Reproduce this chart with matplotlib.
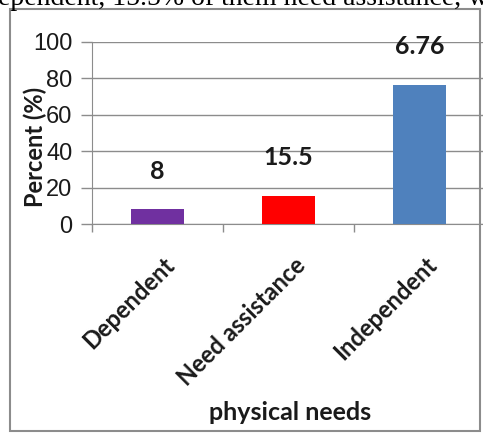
import matplotlib.pyplot as plt
from matplotlib.patches import Rectangle

categories = ['Dependent', 'Need assistance', 'Independent']
percent = [8, 15.5, 76.5]
value_labels = ['8', '15.5', '6.76']
bar_colors = ['#7030A0', '#FF0000', '#4F81BD']
yticks = [0, 20, 40, 60, 80, 100]

fig = plt.figure(figsize=(4.83, 4.33), dpi=100)

# caption line running above the chart box
fig.text(-0.005, 1 - 5 / 433, 'ependent, 15.5% of them need assistance, w',
         family='Liberation Serif', fontsize=20, ha='left', va='baseline')

# chart box
fig.patches.append(Rectangle((10 / 483, 1 - 431 / 433), 470 / 483, 422 / 433,
                             transform=fig.transFigure, fill=False,
                             edgecolor='#8c8c8c', lw=1.5))

ax = fig.add_axes([92 / 483, 1 - 224 / 433, 393 / 483, 182 / 433])
x = range(len(categories))
ax.bar(x, percent, width=0.4, color=bar_colors, zorder=3)

for i, (v, lab) in enumerate(zip(percent, value_labels)):
    ax.text(i, v + 21, lab, ha='center', va='center', family='Lato',
            fontweight='bold', fontsize=18, color='#1a1a1a', zorder=4)

ax.set_xlim(-0.5, 2.5)
ax.set_ylim(0, 100)
ax.set_yticks(yticks)
ax.set_yticklabels([str(t) for t in yticks], family='Liberation Sans',
                   fontsize=17, color='#1a1a1a')
ax.tick_params(axis='y', length=8, width=1, color='#8c8c8c', pad=6)
ax.set_xticks([-0.5, 0.5, 1.5, 2.5])
ax.set_xticklabels([])
ax.tick_params(axis='x', length=6, width=1, color='#8c8c8c')
ax.grid(axis='y', color='#8c8c8c', lw=1, zorder=0)
for s in ['top', 'right']:
    ax.spines[s].set_visible(False)
for s in ['left', 'bottom']:
    ax.spines[s].set_color('#8c8c8c')

for i, name in enumerate(categories):
    ax.text(i + 0.04, -16, name, rotation=45, rotation_mode='anchor',
            ha='right', va='top', family='Lato', fontweight='bold',
            fontsize=17, color='#1a1a1a', clip_on=False)

fig.text(35 / 483, 1 - 147 / 433, 'Percent (%)', rotation=90, ha='center',
         va='center', family='Lato', fontweight='bold', fontsize=17,
         color='#1a1a1a')
fig.text(290 / 483, 1 - 412 / 433, 'physical needs', ha='center', va='center',
         family='Lato', fontweight='bold', fontsize=18, color='#1a1a1a')

fig.savefig('out.png', dpi=100)
